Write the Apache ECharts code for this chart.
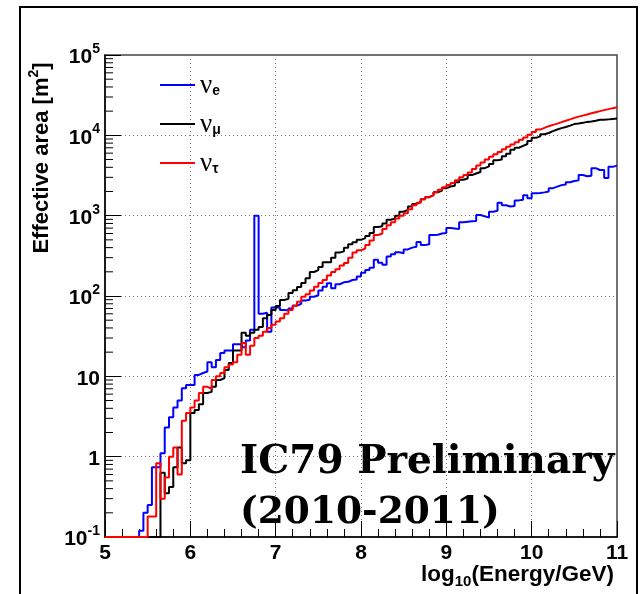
<!DOCTYPE html>
<html><head><meta charset="utf-8">
<script src="https://cdn.jsdelivr.net/npm/echarts@6/dist/echarts.min.js"></script>
<style>html,body{margin:0;padding:0;background:#fff}#c{width:644px;height:594px}</style>
</head><body><div id="c"></div>
<script>
// histogram binning (log10 energy), bins of 0.05 from 5 to 11
const binLow = 5.0;
const binWidth = 0.05;
const xTickValues = [5, 6, 7, 8, 9, 10, 11];
const yTickValues = [0.1, 1, 10, 100, 1000, 10000, 100000];

const nuE = [
  0.1,0.1,0.1,0.1,0.1,0.1,0.1,0.1,0.12,0.2,
  0.25,0.74,0.74,1.1,2.3,3.1,4.1,5.0,7.1,7.8,
  7.8,10.4,11,11.5,15,13,16,19.5,21,21,
  25,25,23,28,38,1000,60,62,36,72,
  72,67,66,70,76,80,88,90,98,102,
  117,130,144,125,140,148,150,158,160,175,
  195,210,224,282,260,245,310,330,350,340,
  380,400,410,470,430,440,575,580,600,610,
  700,690,680,830,840,850,860,1020,980,950,
  1120,1150,1450,1350,1300,1320,1550,1580,1800,1650,
  1900,1920,1950,2000,2200,2300,2400,2450,2600,2700,
  2750,3200,3100,3150,3900,3700,3700,2950,4050,4200
];
const nuMu = [
  0.1,0.1,0.1,0.1,0.1,0.1,0.1,0.1,0.1,0.1,
  0.1,0.1,0.1,0.63,0.35,0.42,0.74,1.3,0.83,0.9,
  3.5,3.8,4.5,6.2,6.4,7.4,9,9.5,12,14.7,
  21,21,35,32,35,38,41,53,58,67,
  75,89,92,109,118,129,145,166,199,210,
  229,263,263,300,347,360,398,440,468,500,
  525,560,610,724,740,800,890,920,1000,1120,
  1180,1300,1400,1480,1600,1700,1800,1950,2050,2200,
  2300,2350,2600,2800,2900,3200,3350,3500,3900,4100,
  4400,4900,5000,5500,5900,6600,7000,7400,7800,8500,
  9300,9700,10300,10700,11300,11800,12300,12700,13200,13800,
  14000,14300,14700,14900,15200,15600,15600,15800,16000,16200
];
const nuTau = [
  0.1,0.1,0.1,0.1,0.1,0.1,0.1,0.1,0.1,0.1,
  0.18,0.18,0.83,0.3,0.55,1.0,1.3,0.6,2.8,3.5,
  4.1,5,6.2,7.4,7,9,10,11,13,14,
  15,18.5,26,18.5,24,30,32,36,40,44,
  48,53,60,67,75,85,98,105,117,130,
  145,158,180,199,215,240,257,300,347,370,
  390,430,490,575,600,680,760,830,920,1000,
  1070,1200,1350,1450,1600,1700,1800,1950,2100,2250,
  2400,2550,2750,3000,3200,3450,3800,4200,4600,5000,
  5400,5800,6200,6700,7200,7700,8200,8800,9400,10200,
  11000,11800,12400,13000,13500,14000,14600,15200,15800,16500,
  17100,17600,18200,18800,19400,20000,20600,21200,21800,22300
];
const seriesNames = ['ν_e', 'ν_μ', 'ν_τ'];
const seriesColors = ['#0000ff', '#000000', '#ff0000'];
const legendSubs = ['e', 'μ', 'τ'];

function histPoints(vals) {
  const pts = vals.map((v, i) => [+(binLow + i * binWidth).toFixed(2), v]);
  pts.push([+(binLow + vals.length * binWidth).toFixed(2), vals[vals.length - 1]]);
  return pts;
}
// log-axis minor tick values (2..9 per decade)
const yMinorTicks = [];
for (let d = -1; d < 5; d++) for (let m = 2; m <= 9; m++) yMinorTicks.push(+(m * Math.pow(10, d)).toPrecision(3));

const chart = echarts.init(document.getElementById('c'));
const sansB = 'Liberation Sans, Arial, sans-serif';
const lineSeries = [nuE, nuMu, nuTau].map((vals, i) => ({
  name: seriesNames[i], type: 'line', step: 'end', symbol: 'none',
  data: histPoints(vals), clip: true,
  lineStyle: { color: seriesColors[i], width: 2 }, itemStyle: { color: seriesColors[i] },
  z: 3 + i, animation: false
}));
const minorTickSeries = {
  type: 'custom', silent: true, animation: false, z: 10,
  data: yMinorTicks.map(v => [xTickValues[0], v]),
  renderItem: (params, api) => {
    const p = api.coord([api.value(0), api.value(1)]);
    return { type: 'line', shape: { x1: p[0], y1: p[1], x2: p[0] + 8, y2: p[1] }, style: { stroke: '#000', lineWidth: 1 } };
  }
};

chart.setOption({
  animation: false,
  backgroundColor: '#fff',
  grid: { left: 105, top: 55, right: 27, bottom: 57, show: true, borderColor: '#444', borderWidth: 1.5, containLabel: false },
  legend: {
    orient: 'vertical', left: 155, top: 67, itemWidth: 35, itemHeight: 2, itemGap: 12,
    icon: 'rect', data: seriesNames, selectedMode: false,
    formatter: name => '{n|ν}{s|' + legendSubs[seriesNames.indexOf(name)] + '}',
    textStyle: { rich: {
      n: { fontFamily: 'Liberation Serif, serif', fontSize: 27, color: '#000', lineHeight: 26, verticalAlign: 'top' },
      s: { fontFamily: sansB, fontWeight: 'bold', fontSize: 14, color: '#000', lineHeight: 14, verticalAlign: 'bottom' }
    } }
  },
  xAxis: {
    type: 'value', min: 5, max: 11, interval: 1,
    axisLine: { show: true, lineStyle: { color: '#000', width: 1.5 } },
    axisTick: { show: true, inside: true, length: 16, lineStyle: { color: '#000' } },
    minorTick: { show: true, splitNumber: 5, length: 8, lineStyle: { color: '#000' } },
    splitLine: { show: true, lineStyle: { color: '#777', type: [1, 3], width: 1 } },
    axisLabel: { margin: 6, color: '#000', fontFamily: sansB, fontWeight: 'bold', fontSize: 21 }
  },
  yAxis: {
    type: 'log', logBase: 10, min: 0.1, max: 100000, splitNumber: 6,
    axisLine: { show: true, lineStyle: { color: '#000', width: 1.5 } },
    axisTick: { show: true, inside: true, length: 16, lineStyle: { color: '#000' } },
    splitLine: { show: true, lineStyle: { color: '#777', type: [1, 3], width: 1 } },
    axisLabel: {
      margin: 5, color: '#000',
      formatter: v => {
        const e = Math.round(Math.log10(v));
        if (e === 0) return '{b|1}';
        if (e === 1) return '{b|10}';
        return '{b|10}{s|' + e + '}';
      },
      rich: {
        b: { fontFamily: sansB, fontWeight: 'bold', fontSize: 21, lineHeight: 26, verticalAlign: 'bottom' },
        s: { fontFamily: sansB, fontWeight: 'bold', fontSize: 14, lineHeight: 14, verticalAlign: 'top' }
      }
    }
  },
  series: lineSeries.concat([minorTickSeries]),
  graphic: [
    { type: 'rect', shape: { x: 20, y: 7, width: 617, height: 620 }, style: { fill: 'none', stroke: '#000', lineWidth: 2 }, silent: true, z: 100 },
    { type: 'text', x: 40, y: 158, rotation: Math.PI / 2, silent: true, z: 100,
      style: { text: '{a|Effective area [m}{s|2}{a|]}', align: 'center', verticalAlign: 'middle',
        rich: { a: { fontFamily: sansB, fontWeight: 'bold', fontSize: 22, lineHeight: 26, verticalAlign: 'bottom', fill: '#000' },
                s: { fontFamily: sansB, fontWeight: 'bold', fontSize: 14, lineHeight: 14, verticalAlign: 'top', fill: '#000' } } } },
    { type: 'text', x: 614, y: 576, silent: true, z: 100,
      style: { text: '{a|log}{s|10}{a|(Energy/GeV)}', align: 'right', verticalAlign: 'middle',
        rich: { a: { fontFamily: sansB, fontWeight: 'bold', fontSize: 22.5, lineHeight: 26, verticalAlign: 'top', fill: '#000' },
                s: { fontFamily: sansB, fontWeight: 'bold', fontSize: 15, lineHeight: 15, verticalAlign: 'bottom', fill: '#000' } } } },
    { type: 'text', x: 240, y: 463, silent: true, z: 100,
      style: { text: 'IC79 Preliminary', align: 'left', verticalAlign: 'middle', fontFamily: 'DejaVu Serif, serif', fontWeight: 'bold', fontSize: 39, fill: '#000' } },
    { type: 'text', x: 240, y: 513, silent: true, z: 100,
      style: { text: '(2010-2011)', align: 'left', verticalAlign: 'middle', fontFamily: 'DejaVu Serif, serif', fontWeight: 'bold', fontSize: 37.5, fill: '#000' } }
  ]
});
</script></body></html>
